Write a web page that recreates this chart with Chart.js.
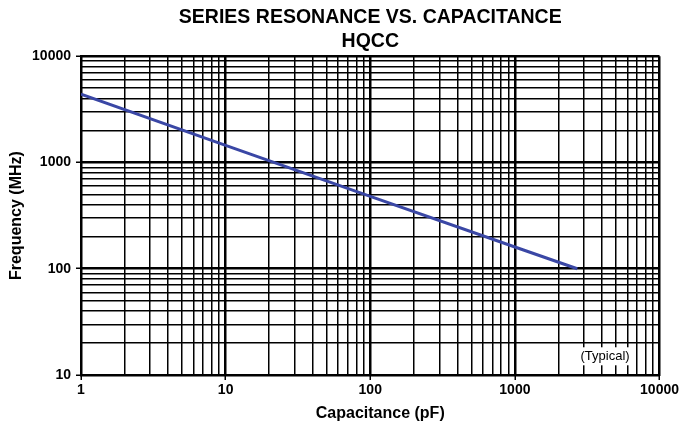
<!DOCTYPE html>
<html>
<head>
<meta charset="utf-8">
<script src="https://cdn.jsdelivr.net/npm/chart.js@4/dist/chart.umd.min.js"></script>
<style>
  html, body { margin: 0; padding: 0; background: #fff; }
  #wrap { width: 681px; height: 428px; position: relative; }
</style>
</head>
<body>
<div id="wrap"><canvas id="c" width="681" height="428"></canvas></div>
<script>
// ---- data ----
const capacitance = [1, 10, 100, 1000, 2700];          // pF
const frequency   = [4400, 1450, 480, 160, 100];       // MHz
const xTickValues = [1,2,3,4,5,6,7,8,9,10,20,30,40,50,60,70,80,90,100,200,300,400,500,600,700,800,900,1000,2000,3000,4000,5000,6000,7000,8000,9000,10000];
const yTickValues = [10,20,30,40,50,60,70,80,90,100,200,300,400,500,600,700,800,900,1000,2000,3000,4000,5000,6000,7000,8000,9000,10000];
const xLabeled = [1, 10, 100, 1000, 10000];
const yLabeled = [10, 100, 1000, 10000];
const titleLines = ['SERIES RESONANCE VS. CAPACITANCE', 'HQCC'];
const xTitle = 'Capacitance (pF)';
const yTitle = 'Frequency (MHz)';
const note = { text: '(Typical)', x: 4200, y: 15 };

const FONT = "'Liberation Sans', Arial, Helvetica, sans-serif";

const isDecade = v => Math.abs(Math.log10(v) - Math.round(Math.log10(v))) < 1e-9;

const textPlugin = {
  id: 'texts',
  afterDraw(chart) {
    const ctx = chart.ctx;
    const xs = chart.scales.x, ys = chart.scales.y;
    const area = chart.chartArea;
    ctx.save();
    // x-axis title (sits slightly right of the plot centre in the reference)
    ctx.font = "bold 16px " + FONT;
    ctx.fillStyle = '#000';
    ctx.textAlign = 'center';
    ctx.textBaseline = 'middle';
    ctx.fillText(xTitle, (area.left + area.right) / 2 + 10, xs.bottom - 14);
    ctx.restore();
  },
  afterDatasetsDraw(chart) {
    const ctx = chart.ctx;
    const xs = chart.scales.x, ys = chart.scales.y;
    const px = xs.getPixelForValue(note.x), py = ys.getPixelForValue(note.y);
    ctx.save();
    ctx.font = "13px " + FONT;
    const w = ctx.measureText(note.text).width;
    ctx.fillStyle = '#fff';
    ctx.fillRect(px - w / 2 - 3, py - 9, w + 6, 18);
    ctx.fillStyle = '#000';
    ctx.textAlign = 'center';
    ctx.textBaseline = 'middle';
    ctx.fillText(note.text, px, py);
    ctx.restore();
  }
};

const gridCommon = {
  color: '#000',
  lineWidth: c => (c.tick && isDecade(c.tick.value)) ? 2.5 : 1.5,
  drawTicks: true,
  tickLength: 5,
  tickWidth: 1.5,
  tickColor: c => (c.tick && isDecade(c.tick.value)) ? '#000' : 'rgba(0,0,0,0)'
};

new Chart(document.getElementById('c'), {
  type: 'line',
  data: {
    datasets: [{
      data: capacitance.map((c, i) => ({ x: c, y: frequency[i] })),
      borderColor: '#3a47a5',
      borderWidth: 3,
      pointRadius: 0,
      tension: 0,
      fill: false
    }]
  },
  options: {
    responsive: false,
    animation: false,
    devicePixelRatio: 1,
    layout: { padding: { left: 0, right: 21, top: 0, bottom: 0 } },
    plugins: {
      legend: { display: false },
      tooltip: { enabled: false },
      title: {
        display: true,
        text: titleLines,
        fullSize: false,
        color: '#000',
        font: { family: FONT, size: 19.5, weight: 'bold', lineHeight: 1.21 },
        padding: { top: 6, bottom: 3 }
      }
    },
    scales: {
      x: {
        type: 'logarithmic',
        min: 1, max: 10000,
        afterBuildTicks: s => { s.ticks = xTickValues.map(v => ({ value: v })); },
        afterFit: s => { s.height = 53; },
        grid: gridCommon,
        border: { display: true, color: '#000', width: 2 },
        ticks: {
          autoSkip: false, maxRotation: 0, minRotation: 0,
          color: '#000', padding: 2,
          font: { family: FONT, size: 14, weight: 'bold' },
          callback: v => xLabeled.includes(v) ? String(v) : ''
        },
        title: { display: false }
      },
      y: {
        type: 'logarithmic',
        min: 10, max: 10000,
        afterBuildTicks: s => { s.ticks = yTickValues.map(v => ({ value: v })); },
        afterFit: s => { s.width = 81; },
        grid: gridCommon,
        border: { display: true, color: '#000', width: 2 },
        ticks: {
          autoSkip: false,
          color: '#000', padding: 5,
          font: { family: FONT, size: 14, weight: 'bold' },
          callback: v => yLabeled.includes(v) ? String(v) : ''
        },
        title: {
          display: true, text: yTitle, color: '#000',
          font: { family: FONT, size: 16, weight: 'bold', lineHeight: 1.2 },
          padding: { top: 7, bottom: 0 }
        }
      }
    }
  },
  plugins: [textPlugin]
});
</script>
</body>
</html>
